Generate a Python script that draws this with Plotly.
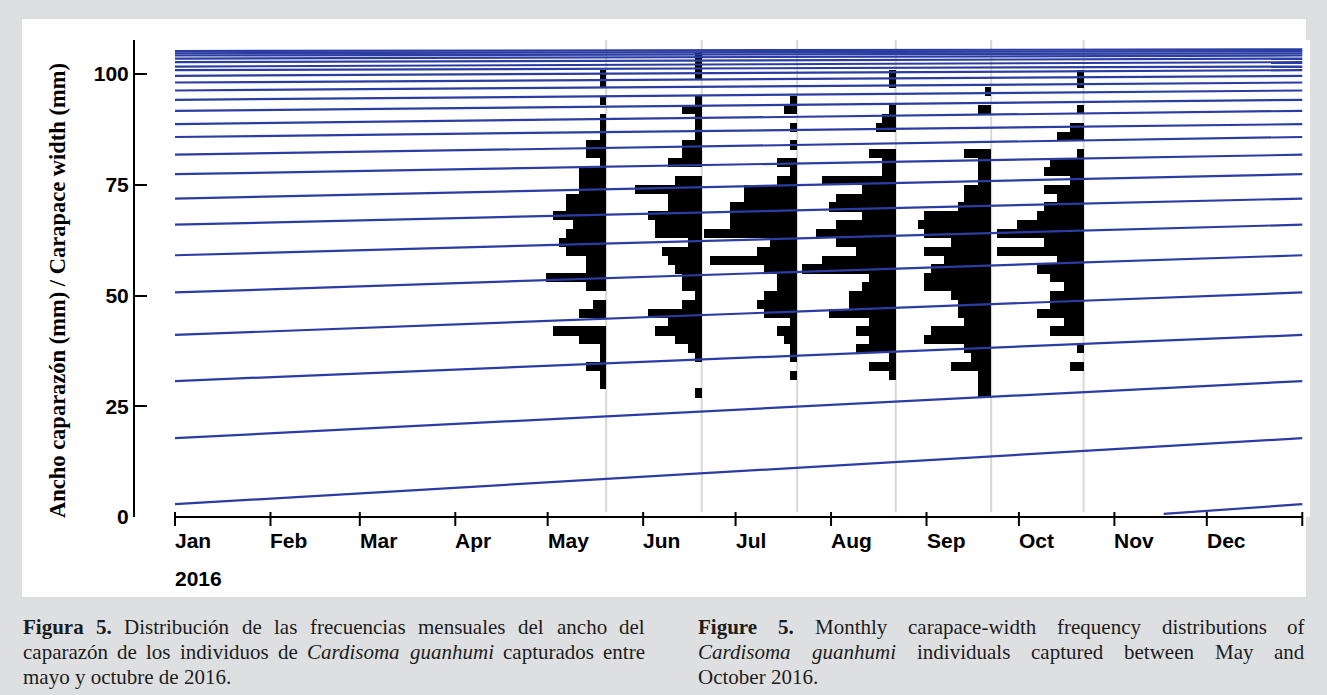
import plotly.graph_objects as go
import pandas as pd

# ------------------------------------------------------------------ data
BIN_MIDS = list(range(28, 106, 2))          # carapace-width classes (mm), 2-mm bins
SAMPLE_DATES = ["2016-05-20", "2016-06-20", "2016-07-21",
                "2016-08-22", "2016-09-22", "2016-10-22"]

#            28 30 32 34 36 38 40 42 44 46 48 50 52 54 56 58 60 62 64 66 68 70 72 74 76 78 80 82 84 86 88 90 92 94 96 98 100 102 104
FREQ_MAY = [0, 1, 1, 3, 1, 1, 4, 8, 0, 4, 2, 0, 3, 9, 3, 3, 6, 7, 6, 5, 8, 6, 6, 4, 4, 4, 1, 3, 3, 1, 1, 1, 0, 1, 0, 1, 1, 0, 0]
FREQ_JUN = [1, 0, 0, 0, 1, 2, 4, 7, 5, 8, 3, 1, 3, 3, 4, 5, 6, 2, 7, 7, 8, 5, 5, 10, 4, 0, 5, 3, 3, 1, 1, 1, 3, 1, 0, 0, 1, 1, 1]
FREQ_JUL = [0, 0, 1, 0, 1, 1, 2, 3, 1, 5, 6, 5, 3, 3, 5, 13, 6, 4, 14, 10, 10, 10, 8, 8, 3, 1, 3, 0, 1, 0, 1, 0, 2, 1, 0, 0, 0, 0, 0]
FREQ_AUG = [0, 0, 1, 4, 1, 6, 4, 6, 4, 10, 7, 7, 5, 4, 14, 11, 6, 9, 12, 9, 5, 10, 9, 5, 11, 2, 2, 4, 0, 0, 3, 2, 1, 0, 0, 1, 1, 0, 0]
FREQ_SEP = [2, 2, 2, 6, 3, 4, 10, 9, 4, 5, 5, 6, 10, 10, 9, 7, 10, 6, 10, 11, 10, 5, 4, 4, 2, 2, 2, 4, 0, 0, 0, 0, 2, 0, 1, 0, 0, 0, 0]
FREQ_OCT = [0, 0, 0, 2, 0, 1, 0, 5, 3, 7, 5, 5, 3, 5, 7, 4, 13, 6, 13, 10, 7, 6, 4, 6, 2, 6, 5, 1, 0, 4, 2, 0, 1, 0, 0, 1, 1, 0, 0]
FREQS = [FREQ_MAY, FREQ_JUN, FREQ_JUL, FREQ_AUG, FREQ_SEP, FREQ_OCT]

# growth curves: carapace width (mm) on 1 Jan 2016 and on 1 Jan 2017 for each cohort
COHORT_JAN = [2.9, 17.8, 30.7, 41.1, 50.7, 59.1, 66.0, 71.9, 77.4, 81.8, 85.8, 88.7,
              91.7, 94.2, 96.3, 98.1, 99.6, 100.9, 101.7, 102.7, 103.5, 104.2, 104.7, 105.2]
COHORT_DEC = [17.8, 30.7, 41.1, 50.7, 59.1, 66.0, 71.9, 77.4, 81.8, 85.8, 88.7, 91.7,
              94.2, 96.3, 98.1, 99.6, 100.9, 101.7, 102.7, 103.5, 104.2, 104.7, 105.2, 105.6]
RECRUIT_DATES = ["2016-11-17", "2017-01-01"]
RECRUIT_WIDTHS = [0.7, 2.9]

MONTHS = ["Jan", "Feb", "Mar", "Apr", "May", "Jun",
          "Jul", "Aug", "Sep", "Oct", "Nov", "Dec"]
YEAR_LABEL = "2016"
YTICKS = [0, 25, 50, 75, 100]
Y_TITLE = "Ancho caparazón (mm) / Carapace width (mm)"

CAPTION_ES = [
    [("Figura", "b"), ("5.", "b"), ("Distribución", ""), ("de", ""), ("las", ""),
     ("frecuencias", ""), ("mensuales", ""), ("del", ""), ("ancho", ""), ("del", "")],
    [("caparazón", ""), ("de", ""), ("los", ""), ("individuos", ""), ("de", ""),
     ("Cardisoma", "i"), ("guanhumi", "i"), ("capturados", ""), ("entre", "")],
    [("mayo y octubre de 2016.", "")],
]
CAPTION_EN = [
    [("Figure", "b"), ("5.", "b"), ("Monthly", ""), ("carapace-width", ""),
     ("frequency", ""), ("distributions", ""), ("of", "")],
    [("Cardisoma", "i"), ("guanhumi", "i"), ("individuals", ""), ("captured", ""),
     ("between", ""), ("May", ""), ("and", "")],
    [("October 2016.", "")],
]

# ------------------------------------------------------------------ layout constants
W, H = 1327, 695
ML, MR, MT, MB = 135, 17, 40, 178
PW, PH = W - ML - MR, H - MT - MB
JAN1_PX = 175.0
PX_PER_DAY = 3.08
DAYS_PER_COUNT = 2.17
Y_MAX = 107.7

jan1 = pd.Timestamp("2016-01-01")
x_start = jan1 - pd.Timedelta(days=(JAN1_PX - ML) / PX_PER_DAY)
x_end = jan1 + pd.Timedelta(days=(W - MR - JAN1_PX) / PX_PER_DAY)

BLUE = "#2b3da2"
GRAY_BG = "#dedfe1"
FMT = "%Y-%m-%d %H:%M:%S"

fig = go.Figure()

# histograms (horizontal bars extending to the left of each sampling date)
for date, freqs in zip(SAMPLE_DATES, FREQS):
    d = pd.Timestamp(date)
    ys, bases, lens = [], [], []
    for b, c in zip(BIN_MIDS, freqs):
        if c > 0:
            span = pd.Timedelta(days=c * DAYS_PER_COUNT)
            ys.append(b)
            bases.append((d - span).strftime(FMT))
            lens.append(span.total_seconds() * 1000.0)
    fig.add_trace(go.Bar(y=ys, x=lens, base=bases, orientation="h", width=2.05,
                         marker=dict(color="black", line=dict(width=0)),
                         showlegend=False, hoverinfo="skip"))

# growth curves
for a, b in zip(COHORT_JAN, COHORT_DEC):
    fig.add_trace(go.Scatter(x=["2016-01-01", "2017-01-01"], y=[a, b], mode="lines",
                             line=dict(color=BLUE, width=2.2), showlegend=False,
                             hoverinfo="skip"))
fig.add_trace(go.Scatter(x=RECRUIT_DATES, y=RECRUIT_WIDTHS, mode="lines",
                         line=dict(color=BLUE, width=2.2), showlegend=False,
                         hoverinfo="skip"))

shapes = []
# white panel
shapes.append(dict(type="rect", xref="paper", yref="paper", layer="below",
                   x0=(22 - ML) / PW, x1=(1306 - ML) / PW,
                   y0=(MT + PH - 597) / PH, y1=(MT + PH - 19) / PH,
                   fillcolor="white", line=dict(width=0)))
# sampling-date lines
for date in SAMPLE_DATES:
    shapes.append(dict(type="line", xref="x", yref="paper", layer="below",
                       x0=date, x1=date, y0=0.01, y1=1,
                       line=dict(color="#d8d8d3", width=2)))
# x axis line + ticks
month_starts = list(pd.date_range("2016-01-01", periods=13, freq="MS"))
shapes.append(dict(type="line", xref="x", yref="paper",
                   x0=month_starts[0].strftime(FMT), x1=month_starts[-1].strftime(FMT),
                   y0=0, y1=0, line=dict(color="black", width=2)))
for m in month_starts:
    shapes.append(dict(type="line", xref="x", yref="paper", ysizemode="pixel", yanchor=0,
                       x0=m.strftime(FMT), x1=m.strftime(FMT), y0=-9, y1=5,
                       line=dict(color="black", width=2)))

annotations = []
tick_font = dict(family="Liberation Sans, Arial", size=21, color="black", weight="bold")
for name, m in zip(MONTHS, month_starts):
    annotations.append(dict(x=m.strftime(FMT), xref="x", y=0, yref="paper", yshift=-23,
                            text=name, showarrow=False, xanchor="left", yanchor="middle",
                            font=tick_font, borderpad=0, borderwidth=0))
annotations.append(dict(x=month_starts[0].strftime(FMT), xref="x", y=0, yref="paper",
                        yshift=-61, text=YEAR_LABEL, showarrow=False, xanchor="left",
                        yanchor="middle", font=tick_font, borderpad=0, borderwidth=0))
# y title
annotations.append(dict(x=0, xref="paper", xshift=57 - ML, y=0, yref="paper",
                        yshift=(MT + PH) - 291, text="<b>" + Y_TITLE + "</b>",
                        textangle=-90, showarrow=False, xanchor="center", yanchor="middle",
                        font=dict(family="Liberation Serif, Times New Roman", size=22.5,
                                  color="black")))

# caption with justified lines
REG = {' ': 250, '(': 333, ')': 333, ',': 250, '-': 333, '.': 250, '/': 278,
       'A': 722, 'C': 667, 'D': 722, 'F': 556, 'M': 889, 'O': 722,
       'a': 444, 'b': 500, 'c': 444, 'd': 500, 'e': 444, 'f': 333, 'g': 500, 'h': 500,
       'i': 278, 'j': 278, 'k': 500, 'l': 278, 'm': 778, 'n': 500, 'o': 500, 'p': 500,
       'q': 500, 'r': 333, 's': 389, 't': 278, 'u': 500, 'v': 500, 'w': 722, 'x': 500,
       'y': 500, 'z': 444, 'ó': 500, 'á': 444, 'é': 444, 'í': 278}
BOLD = {'F': 611, 'i': 278, 'g': 500, 'u': 556, 'r': 444, 'a': 500, 'e': 444, '.': 250}
ITAL = {'C': 667, 'a': 500, 'r': 389, 'd': 500, 'i': 278, 's': 389, 'o': 500, 'm': 722,
        'g': 500, 'u': 500, 'n': 500, 'h': 500}
CAP_FS = 21
CAP_FONT = dict(family="Liberation Serif, Times New Roman", size=CAP_FS, color="#1c1c1c")


def word_width(word, style):
    table = BOLD if style == "b" else ITAL if style == "i" else {}
    return sum(table.get(ch, REG.get(ch, 500)) for ch in word) * CAP_FS / 1000.0


def styled(word, style):
    if style == "b":
        return "<b>" + word + "</b>"
    if style == "i":
        return "<i>" + word + "</i>"
    return word


def add_caption(lines, left, right, ys):
    for words, ypx in zip(lines, ys):
        if len(words) == 1:
            annotations.append(dict(x=0, xref="paper", xshift=left - ML, y=0, yref="paper",
                                    yshift=(MT + PH) - ypx, text=styled(*words[0]),
                                    showarrow=False, xanchor="left", yanchor="middle",
                                    font=CAP_FONT, borderpad=0, borderwidth=0))
            continue
        widths = [word_width(w, s) for w, s in words]
        gap = (right - left - sum(widths)) / (len(words) - 1)
        xpos = left
        for i, ((w, s), ww) in enumerate(zip(words, widths)):
            last = i == len(words) - 1
            annotations.append(dict(x=0, xref="paper",
                                    xshift=(right if last else xpos) - ML,
                                    y=0, yref="paper", yshift=(MT + PH) - ypx,
                                    text=styled(w, s), showarrow=False,
                                    xanchor="right" if last else "left", yanchor="middle",
                                    font=CAP_FONT, borderpad=0, borderwidth=0))
            xpos += ww + gap


add_caption(CAPTION_ES, 23, 645, [627, 652, 677])
add_caption(CAPTION_EN, 698, 1305, [627, 652, 677])

fig.update_layout(
    width=W, height=H, autosize=False,
    margin=dict(l=ML, r=MR, t=MT, b=MB, pad=0),
    paper_bgcolor=GRAY_BG, plot_bgcolor="white",
    barmode="overlay", bargap=0,
    showlegend=False,
    shapes=shapes, annotations=annotations,
    xaxis=dict(type="date", range=[x_start.strftime(FMT), x_end.strftime(FMT)],
               showgrid=False, zeroline=False, showline=False, showticklabels=False,
               ticks=""),
    yaxis=dict(range=[0, Y_MAX], showgrid=False, zeroline=False, showline=True,
               linecolor="black", linewidth=2, ticks="inside", ticklen=12, tickwidth=2,
               tickcolor="black", tickvals=YTICKS, tickfont=tick_font),
)

fig.write_html("out.html", config={"displayModeBar": False})
